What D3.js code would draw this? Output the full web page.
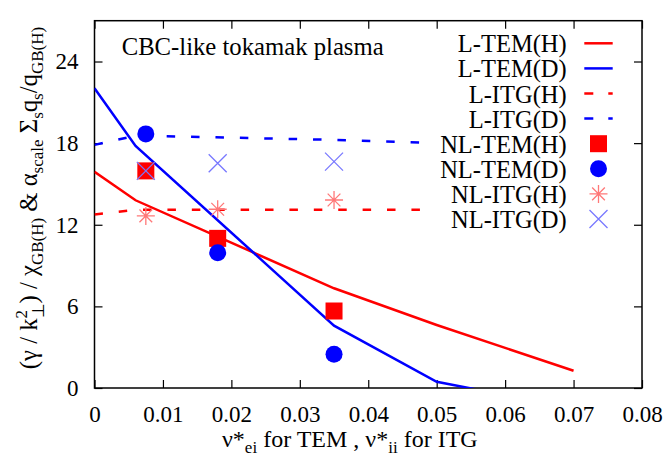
<!DOCTYPE html>
<html lang="en">
<head>
<meta charset="UTF-8">
<title>CBC-like tokamak plasma</title>
<script src="https://d3js.org/d3.v7.min.js"></script>
</head>
<body style="margin:0;background:#fff">
<svg id="chart" width="669" height="455"></svg>
<script>
// collisionality values (x)
const nuLinTEM = [0, 0.006, 0.035, 0.05, 0.07];
const nuLinITG = [0, 0.006, 0.035, 0.048];
const nuNL = [0.0075, 0.018, 0.035];

// linear results
const linTEM_H = [15.9, 13.8, 7.33, 4.63, 1.27];
const linTEM_D = [22.04, 17.8, 4.58, 0.46, -1.5];
const linITG_H = [12.75, 13.1, 13.1, 13.1];
const linITG_D = [17.87, 18.55, 18.24, 18.04];

// nonlinear results
const nlTEM_H = [15.96, 11.0, 5.66];
const nlTEM_D = [18.68, 9.95, 2.48];
const nlITG_H = [12.65, 13.14, 13.82];
const nlITG_D = [15.96, 16.52, 16.64];

const xTicks = [0, 0.01, 0.02, 0.03, 0.04, 0.05, 0.06, 0.07, 0.08];
const yTicks = [0, 6, 12, 18, 24];
const legendLabels = ["L-TEM(H)", "L-TEM(D)", "L-ITG(H)", "L-ITG(D)",
                      "NL-TEM(H)", "NL-TEM(D)", "NL-ITG(H)", "NL-ITG(D)"];

const RED = "#ff0000", BLUE = "#0000ff";
const PINK = "rgb(255,120,120)", LBLUE = "rgb(120,120,255)";
const FONT = "Times New Roman, serif";

const svg = d3.select("#chart");
const pL = 94.5, pR = 642, pT = 20.7, pB = 388;
const x = d3.scaleLinear().domain([0, 0.08]).range([pL, pR]);
const y = d3.scaleLinear().domain([0, 27]).range([pB, pT]);

svg.append("rect").attr("width", 669).attr("height", 455).attr("fill", "#fff");

svg.append("clipPath").attr("id", "plotclip")
  .append("rect").attr("x", pL).attr("y", pT)
  .attr("width", pR - pL).attr("height", pB - pT);

// axes (ticks pointing inward, mirrored)
const fmtX = v => v === 0 ? "0" : d3.format(".2f")(v);
svg.append("g").attr("transform", `translate(0,${pB})`)
  .call(d3.axisBottom(x).tickValues(xTicks).tickFormat(fmtX).tickSizeInner(-8).tickSizeOuter(0).tickPadding(17.4));
svg.append("g").attr("transform", `translate(${pL},0)`)
  .call(d3.axisLeft(y).tickValues(yTicks).tickFormat(d3.format("d")).tickSizeInner(-8).tickSizeOuter(0).tickPadding(16));
svg.append("g").attr("transform", `translate(0,${pT})`)
  .call(d3.axisTop(x).tickValues(xTicks).tickFormat("").tickSizeInner(-8).tickSizeOuter(0));
svg.append("g").attr("transform", `translate(${pR},0)`)
  .call(d3.axisRight(y).tickValues(yTicks).tickFormat("").tickSizeInner(-8).tickSizeOuter(0));
svg.selectAll(".domain").remove();
svg.selectAll(".tick line").attr("stroke", "#000").attr("stroke-width", 1.2);
svg.selectAll(".tick text").attr("font-size", 23).attr("fill", "#000");

svg.append("rect").attr("x", pL).attr("y", pT)
  .attr("width", pR - pL).attr("height", pB - pT)
  .attr("fill", "none").attr("stroke", "#000").attr("stroke-width", 1.5);

// lines
const plot = svg.append("g").attr("clip-path", "url(#plotclip)");
const line = d3.line().x(d => x(d[0])).y(d => y(d[1]));
const lineSeries = [
  { xs: nuLinTEM, ys: linTEM_H, color: RED, dash: null },
  { xs: nuLinTEM, ys: linTEM_D, color: BLUE, dash: null },
  { xs: nuLinITG, ys: linITG_H, color: RED, dash: "8.5,15.9" },
  { xs: nuLinITG, ys: linITG_D, color: BLUE, dash: "8.5,15.9" }
];
lineSeries.forEach(s => {
  plot.append("path")
    .datum(s.xs.map((v, i) => [v, s.ys[i]]))
    .attr("d", line)
    .attr("fill", "none")
    .attr("stroke", s.color)
    .attr("stroke-width", 2.5)
    .attr("stroke-dasharray", s.dash);
});

// marker painters
function square(g, cx, cy) {
  g.append("rect").attr("x", cx - 8.5).attr("y", cy - 8.5).attr("width", 17).attr("height", 17).attr("fill", RED);
}
function circle(g, cx, cy) {
  g.append("circle").attr("cx", cx).attr("cy", cy).attr("r", 8.5).attr("fill", BLUE);
}
function star(g, cx, cy) {
  const r = 9, k = r * Math.SQRT1_2;
  const p = `M${cx - r},${cy}H${cx + r}M${cx},${cy - r}V${cy + r}` +
            `M${cx - k},${cy - k}L${cx + k},${cy + k}M${cx - k},${cy + k}L${cx + k},${cy - k}`;
  g.append("path").attr("d", p).attr("stroke", PINK).attr("stroke-width", 1.3).attr("fill", "none");
}
function cross(g, cx, cy) {
  const r = 9;
  const p = `M${cx - r},${cy - r}L${cx + r},${cy + r}M${cx - r},${cy + r}L${cx + r},${cy - r}`;
  g.append("path").attr("d", p).attr("stroke", LBLUE).attr("stroke-width", 1.3).attr("fill", "none");
}

const pointSeries = [
  { ys: nlTEM_H, draw: square },
  { ys: nlTEM_D, draw: circle },
  { ys: nlITG_H, draw: star },
  { ys: nlITG_D, draw: cross }
];
const pts = svg.append("g");
pointSeries.forEach(s => nuNL.forEach((v, i) => s.draw(pts, x(v), y(s.ys[i]))));

// title
svg.append("text").attr("x", 121.7).attr("y", 55)
  .attr("font-size", 24.7).text("CBC-like tokamak plasma");

// legend
const leg = svg.append("g");
const legKinds = [
  { color: RED, dash: null }, { color: BLUE, dash: null },
  { color: RED, dash: "9,15" }, { color: BLUE, dash: "9,15" },
  { draw: square }, { draw: circle }, { draw: star }, { draw: cross }
];
legendLabels.forEach((lab, i) => {
  const cy = 43.3 + i * 25.1;
  leg.append("text").attr("x", 566.7).attr("y", cy + 9)
    .attr("text-anchor", "end").attr("font-size", 24.5).text(lab);
  const k = legKinds[i];
  if (k.draw) {
    k.draw(leg, 598.5, cy);
  } else {
    leg.append("line").attr("x1", 584.3).attr("x2", 612.7).attr("y1", cy).attr("y2", cy)
      .attr("stroke", k.color).attr("stroke-width", 2.5).attr("stroke-dasharray", k.dash);
  }
});

// x label
const xl = svg.append("text").attr("x", 222).attr("y", 447).attr("font-size", 24);
xl.append("tspan").text("ν*");
xl.append("tspan").attr("dy", 6).attr("font-size", 17).text("ei");
xl.append("tspan").attr("dy", -6).text(" for TEM ,  ν*");
xl.append("tspan").attr("dy", 6).attr("font-size", 17).text("ii");
xl.append("tspan").attr("dy", -6).text(" for ITG");

// y label
const yl = svg.append("text").attr("transform", "translate(37,198) rotate(-90)")
  .attr("text-anchor", "middle").attr("font-size", 24.7);
yl.append("tspan").text("(γ / k");
yl.append("tspan").attr("dy", -10).attr("font-size", 17).text("2");
yl.append("tspan").attr("dx", -8.5).attr("dy", 17).attr("font-size", 17).text("⊥");
yl.append("tspan").attr("dy", -7).text(") / χ");
yl.append("tspan").attr("dy", 6).attr("font-size", 17).text("GB(H)");
yl.append("tspan").attr("dy", -6).text("  &  α");
yl.append("tspan").attr("dy", 6).attr("font-size", 17).text("scale");
yl.append("tspan").attr("dy", -6).text(" Σ");
yl.append("tspan").attr("dy", 6).attr("font-size", 17).text("s");
yl.append("tspan").attr("dy", -6).text("q");
yl.append("tspan").attr("dy", 6).attr("font-size", 17).text("s");
yl.append("tspan").attr("dy", -6).text("/q");
yl.append("tspan").attr("dy", 6).attr("font-size", 17).text("GB(H)");

// serif everywhere, set inline
svg.selectAll("text").style("font-family", FONT).style("fill", "#000");
</script>
</body>
</html>
